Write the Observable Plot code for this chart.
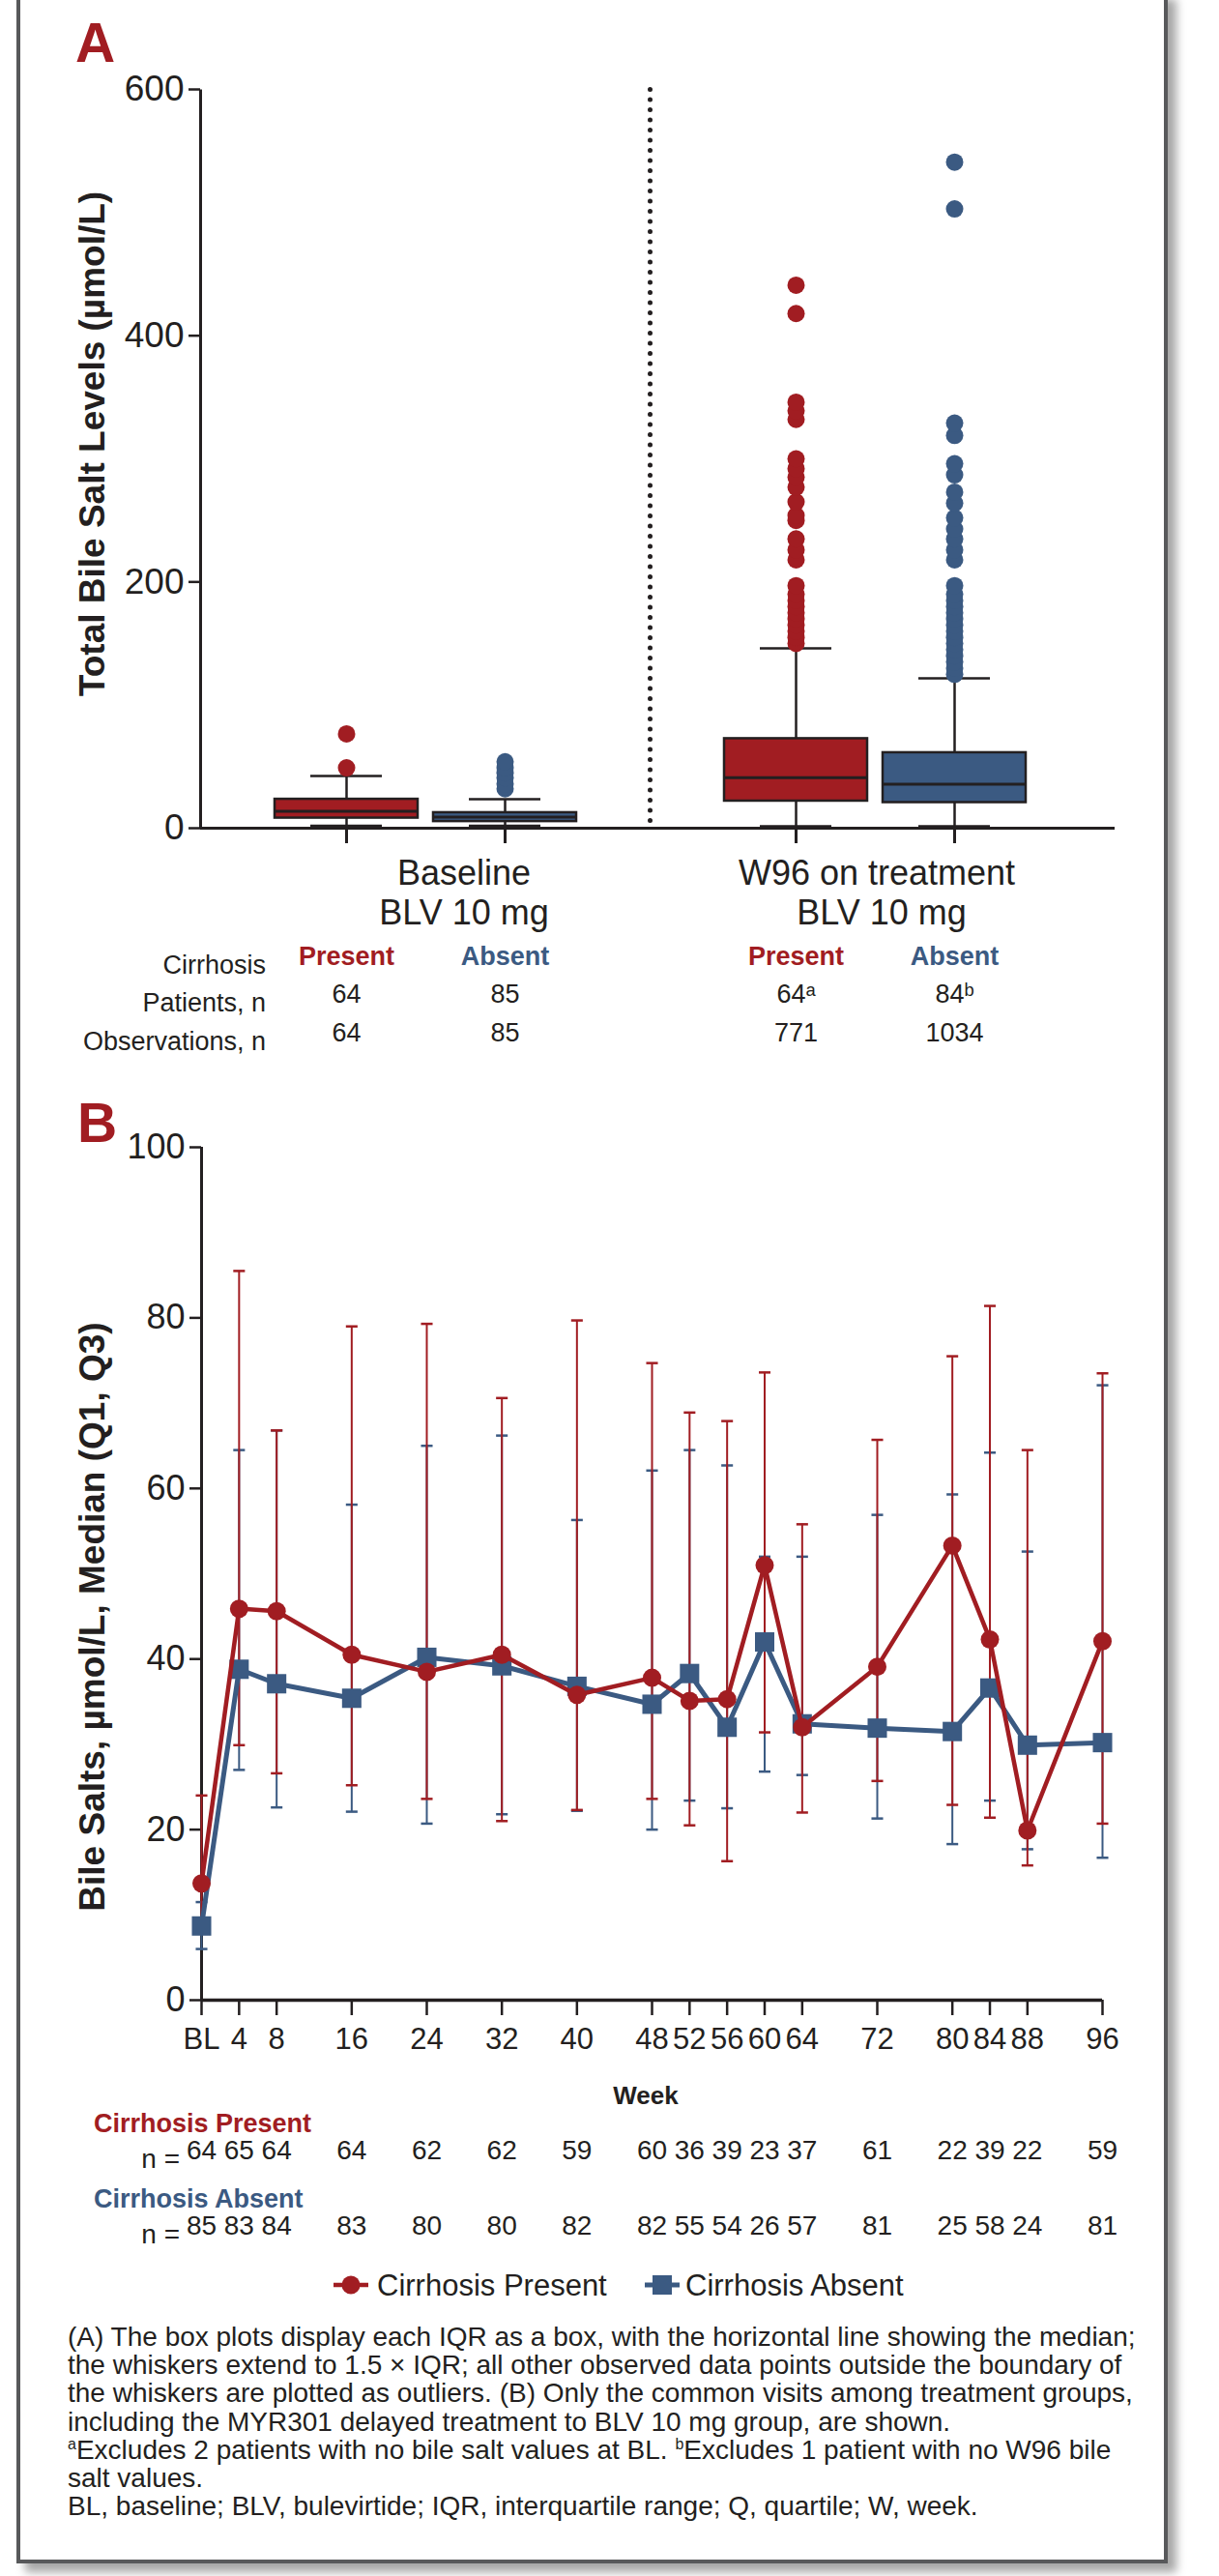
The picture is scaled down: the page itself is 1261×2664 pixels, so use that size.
<!DOCTYPE html>
<html>
<head>
<meta charset="utf-8">
<script src="https://cdn.jsdelivr.net/npm/d3@7"></script>
<script src="https://cdn.jsdelivr.net/npm/@observablehq/plot@0.6"></script>
<style>
  body { margin: 0; background: #fff; }
  #page { position: relative; width: 1261px; height: 2664px; overflow: hidden; background: #fff;
          font-family: "Liberation Sans", Arial, Helvetica, sans-serif; }
  #border { position: absolute; left: 17px; top: -10px; width: 1183px; height: 2657px;
            border: 4px solid #58595b; border-top: none; box-shadow: 9px 9px 9px rgba(0,0,0,0.35); background: #fff; }
  .layer { position: absolute; left: 0; }
</style>
</head>
<body>
<div id="page"><div id="border"></div></div>
<script>
// ---------- colours / fonts ----------
const red = "#a11d22";
const blue = "#3b5a82";
const ink = "#231f20";
const font = '"Liberation Sans", Arial, Helvetica, sans-serif';

// ---------- Panel A data ----------
const timepoints = ["Baseline", "W96"];
const cirrhosis = ["Present", "Absent"];
const boxTime   = ["Baseline", "Baseline", "W96", "W96"];
const boxCirr   = ["Present", "Absent", "Present", "Absent"];
const boxLow    = [2.0, 2.0, 1.5, 1.5];
const boxQ1     = [8.2, 5.4, 22.0, 20.8];
const boxMedian = [13.7, 9.0, 41.0, 35.7];
const boxQ3     = [23.5, 12.6, 72.7, 61.3];
const boxHigh   = [42.4, 23.5, 146.0, 121.8];
const outBaselinePresent = [49, 76.6];
const outBaselineAbsent  = [32, 36, 41, 45, 49, 54];
const outW96Present = [150, 155, 160, 165, 170, 175, 180, 185, 190, 197, 218, 226, 235, 250, 254, 265, 277, 285, 292, 300, 332, 339, 346, 418, 441];
const outW96Absent  = [125, 130, 135, 140, 145, 150, 155, 160, 165, 170, 175, 180, 185, 190, 197, 218, 226, 235, 243, 252, 264, 273, 287, 296, 319, 329, 503, 541];
const patientsN     = ["64", "85", "64ᵃ", "84ᵇ"];
const observationsN = ["64", "85", "771", "1034"];
const yTicksA = [0, 200, 400, 600];

// ---------- Panel B data ----------
const weeks      = [0, 4, 8, 16, 24, 32, 40, 48, 52, 56, 60, 64, 72, 80, 84, 88, 96];
const presMedian = [13.7, 45.9, 45.6, 40.5, 38.5, 40.5, 35.8, 37.8, 35.1, 35.3, 51.0, 32.0, 39.1, 53.3, 42.3, 19.9, 42.1];
const presQ1     = [8.5, 29.9, 26.6, 25.2, 23.6, 21.0, 22.3, 23.6, 20.5, 16.3, 31.4, 22.0, 25.7, 22.9, 21.4, 15.8, 20.7];
const presQ3     = [24.0, 85.5, 66.8, 79.0, 79.3, 70.6, 79.7, 74.7, 68.9, 67.9, 73.6, 55.8, 65.7, 75.5, 81.4, 64.5, 73.5];
const absMedian  = [8.7, 38.8, 37.1, 35.4, 40.2, 39.2, 36.8, 34.7, 38.3, 32.0, 42.0, 32.4, 31.9, 31.5, 36.6, 29.9, 30.2];
const absQ1      = [6.0, 27.0, 22.6, 22.1, 20.7, 21.8, 22.2, 20.0, 23.4, 22.5, 26.8, 26.4, 21.3, 18.3, 23.4, 17.7, 16.7];
const absQ3      = [11.5, 64.5, 66.8, 58.1, 65.0, 66.2, 56.3, 62.1, 64.5, 62.7, 52.0, 52.0, 56.9, 59.3, 64.2, 52.6, 72.1];
const nPresent   = [64, 65, 64, 64, 62, 62, 59, 60, 36, 39, 23, 37, 61, 22, 39, 22, 59];
const nAbsent    = [85, 83, 84, 83, 80, 80, 82, 82, 55, 54, 26, 57, 81, 25, 58, 24, 81];
const yTicksB = [0, 20, 40, 60, 80, 100];

// ---------- build tables ----------
const boxes = boxTime.map((t, i) => ({
  time: t, cirr: boxCirr[i], lo: boxLow[i], q1: boxQ1[i], med: boxMedian[i], q3: boxQ3[i], hi: boxHigh[i],
  patients: patientsN[i], obs: observationsN[i]
}));
const outliers = [
  ...outBaselinePresent.map(v => ({time: "Baseline", cirr: "Present", v})),
  ...outBaselineAbsent.map(v => ({time: "Baseline", cirr: "Absent", v})),
  ...outW96Present.map(v => ({time: "W96", cirr: "Present", v})),
  ...outW96Absent.map(v => ({time: "W96", cirr: "Absent", v}))
];
const visits = weeks.map((w, i) => ({
  week: w, pMed: presMedian[i], pQ1: presQ1[i], pQ3: presQ3[i],
  aMed: absMedian[i], aQ1: absQ1[i], aQ3: absQ3[i], nP: nPresent[i], nA: nAbsent[i]
}));

const page = document.getElementById("page");
function place(el, top) {
  const d = document.createElement("div");
  d.className = "layer";
  d.style.top = top + "px";
  d.appendChild(el);
  page.appendChild(d);
}

// ---------- Panel A ----------
const chartA = Plot.plot({
  width: 1261, height: 1110,
  marginTop: 92, marginBottom: 254, marginLeft: 207, marginRight: 124,
  style: {background: "transparent", fontFamily: font, color: ink, overflow: "visible"},
  fx: {domain: timepoints, padding: 0, axis: null},
  x: {domain: cirrhosis, paddingInner: 0.1, paddingOuter: 0.46, axis: null},
  y: {domain: [0, 600], axis: null},
  color: {domain: cirrhosis, range: [red, blue]},
  marks: [
    Plot.frame({anchor: "left", stroke: ink, strokeWidth: 5, strokeDasharray: "0 10.5", strokeLinecap: "round"}),
    Plot.ruleY([0], {stroke: ink, strokeWidth: 3, insetRight: -16}),
    Plot.axisY(yTicksA, {tickSize: 12, tickPadding: 5, fontSize: 37, strokeWidth: 2.5, label: null}),
    Plot.axisX({tickSize: 16, tickFormat: () => "", strokeWidth: 3, label: null}),
    Plot.ruleX(boxes, {fx: "time", x: "cirr", y1: "q3", y2: "hi", stroke: ink, strokeWidth: 2.5}),
    Plot.ruleX(boxes, {fx: "time", x: "cirr", y1: "lo", y2: "q1", stroke: ink, strokeWidth: 2.5}),
    Plot.tickY(boxes, {fx: "time", x: "cirr", y: "hi", insetLeft: 37, insetRight: 37, stroke: ink, strokeWidth: 2.5}),
    Plot.tickY(boxes, {fx: "time", x: "cirr", y: "lo", insetLeft: 37, insetRight: 37, stroke: ink, strokeWidth: 2.5}),
    Plot.barY(boxes, {fx: "time", x: "cirr", y1: "q1", y2: "q3", fill: "cirr", stroke: ink, strokeWidth: 2.5}),
    Plot.tickY(boxes, {fx: "time", x: "cirr", y: "med", stroke: ink, strokeWidth: 3}),
    Plot.dot(outliers, {fx: "time", x: "cirr", y: "v", r: 9, fill: "cirr"}),
    Plot.text(boxes, {fx: "time", x: "cirr", text: "cirr", fill: "cirr", fontWeight: "bold", fontSize: 27,
                      frameAnchor: "bottom", dy: 141.5}),
    Plot.text(boxes, {fx: "time", x: "cirr", text: "patients", fill: ink, fontSize: 27, frameAnchor: "bottom", dy: 180.5}),
    Plot.text(boxes, {fx: "time", x: "cirr", text: "obs", fill: ink, fontSize: 27, frameAnchor: "bottom", dy: 220.5})
  ]
});
place(chartA, 0);
// the left frame edge of the first facet is the solid y axis; the other one is the dotted separator
chartA.querySelectorAll("line, path, rect").forEach(e => {
  const cs = getComputedStyle(e);
  if (cs.strokeDasharray && cs.strokeDasharray !== "none" && e.getBoundingClientRect().left < 300) {
    e.style.strokeDasharray = "none";
    e.style.strokeLinecap = "butt";
    e.style.strokeWidth = "3";
  }
});

// ---------- Panel B ----------
const capSymbol = {
  draw(context, size) {
    const w = Math.sqrt(size);
    context.moveTo(-w / 2, 0);
    context.lineTo(w / 2, 0);
  }
};
const chartB = Plot.plot({
  width: 1261, height: 1200,
  marginTop: 56, marginBottom: 262, marginLeft: 208, marginRight: 121,
  style: {background: "transparent", fontFamily: font, color: ink, overflow: "visible"},
  x: {domain: [0, 96], axis: null},
  y: {domain: [0, 100], axis: null},
  marks: [
    Plot.ruleX([0], {stroke: ink, strokeWidth: 3}),
    Plot.ruleY([0], {stroke: ink, strokeWidth: 3.5}),
    Plot.axisY(yTicksB, {tickSize: 12, tickPadding: 5, fontSize: 36, strokeWidth: 2.5, label: null}),
    Plot.axisX(weeks, {tickSize: 16, tickPadding: 12, fontSize: 31, strokeWidth: 2.5, label: null,
                       tickFormat: d => d === 0 ? "BL" : String(d)}),
    // error bars (Q1–Q3)
    Plot.ruleX(visits, {x: "week", y1: "aQ1", y2: "aQ3", stroke: blue, strokeWidth: 2}),
    Plot.dot(visits, {x: "week", y: "aQ1", symbol: capSymbol, r: 6.8, fill: "none", stroke: blue, strokeWidth: 2.5}),
    Plot.dot(visits, {x: "week", y: "aQ3", symbol: capSymbol, r: 6.8, fill: "none", stroke: blue, strokeWidth: 2.5}),
    Plot.ruleX(visits, {x: "week", y1: "pQ1", y2: "pQ3", stroke: red, strokeWidth: 2}),
    Plot.dot(visits, {x: "week", y: "pQ1", symbol: capSymbol, r: 6.8, fill: "none", stroke: red, strokeWidth: 2.5}),
    Plot.dot(visits, {x: "week", y: "pQ3", symbol: capSymbol, r: 6.8, fill: "none", stroke: red, strokeWidth: 2.5}),
    // medians
    Plot.line(visits, {x: "week", y: "aMed", stroke: blue, strokeWidth: 5}),
    Plot.dot(visits, {x: "week", y: "aMed", symbol: "square", r: 11.3, fill: blue}),
    Plot.line(visits, {x: "week", y: "pMed", stroke: red, strokeWidth: 4.5}),
    Plot.dot(visits, {x: "week", y: "pMed", symbol: "circle", r: 9.5, fill: red}),
    // n rows
    Plot.text(visits, {x: "week", text: "nP", fill: ink, fontSize: 28, frameAnchor: "bottom", dy: 164}),
    Plot.text(visits, {x: "week", text: "nA", fill: ink, fontSize: 28, frameAnchor: "bottom", dy: 242})
  ]
});
place(chartB, 1130);

// ---------- annotations (labels, legend, footnote) ----------
const ann = d3.select(page).append("svg")
  .attr("width", 1261).attr("height", 2664)
  .style("position", "absolute").style("left", "0px").style("top", "0px")
  .style("font-family", font);

function txt(x, y, s, {size = 27, weight = "normal", fill = ink, anchor = "start", rotate = 0} = {}) {
  const t = ann.append("text")
    .attr("x", x).attr("y", y)
    .attr("font-size", size).attr("font-weight", weight)
    .attr("fill", fill).attr("text-anchor", anchor)
    .text(s);
  if (rotate) t.attr("transform", `rotate(${rotate},${x},${y})`);
  return t;
}

// panel letters
txt(78, 64, "A", {size: 57, weight: "bold", fill: red});
txt(80, 1181, "B", {size: 57, weight: "bold", fill: red});

// y-axis titles
txt(108, 459, "Total Bile Salt Levels (µmol/L)", {size: 37, weight: "bold", anchor: "middle", rotate: -90});
txt(108, 1672, "Bile Salts, µmol/L, Median (Q1, Q3)", {size: 37, weight: "bold", anchor: "middle", rotate: -90});

// panel A group labels
txt(480, 915, "Baseline", {size: 36, anchor: "middle"});
txt(480, 956, "BLV 10 mg", {size: 36, anchor: "middle"});
txt(907, 915, "W96 on treatment", {size: 36, anchor: "middle"});
txt(912, 956, "BLV 10 mg", {size: 36, anchor: "middle"});

// panel A table row labels
txt(275, 1007, "Cirrhosis", {anchor: "end"});
txt(275, 1046, "Patients, n", {anchor: "end"});
txt(275, 1086, "Observations, n", {anchor: "end"});

// panel B axis title and n rows labels
txt(668, 2176, "Week", {size: 26, weight: "bold", anchor: "middle"});
txt(97, 2205, "Cirrhosis Present", {size: 27, weight: "bold", fill: red});
txt(186, 2242, "n =", {size: 28, anchor: "end"});
txt(97, 2283, "Cirrhosis Absent", {size: 27, weight: "bold", fill: blue});
txt(186, 2320, "n =", {size: 28, anchor: "end"});

// legend
const ly = 2363;
ann.append("line").attr("x1", 345).attr("x2", 381).attr("y1", ly).attr("y2", ly).attr("stroke", red).attr("stroke-width", 4.5);
ann.append("circle").attr("cx", 363).attr("cy", ly).attr("r", 9.5).attr("fill", red);
txt(390, ly + 11, "Cirrhosis Present", {size: 31});
ann.append("line").attr("x1", 667).attr("x2", 703).attr("y1", ly).attr("y2", ly).attr("stroke", blue).attr("stroke-width", 5);
ann.append("rect").attr("x", 675).attr("y", ly - 10).attr("width", 20).attr("height", 20).attr("fill", blue);
txt(709, ly + 11, "Cirrhosis Absent", {size: 31});

// footnote
const footLines = [
  ["(A) The box plots display each IQR as a box, with the horizontal line showing the median;"],
  ["the whiskers extend to 1.5 × IQR; all other observed data points outside the boundary of"],
  ["the whiskers are plotted as outliers. (B) Only the common visits among treatment groups,"],
  ["including the MYR301 delayed treatment to BLV 10 mg group, are shown."],
  [{sup: "a"}, "Excludes 2 patients with no bile salt values at BL. ", {sup: "b"}, "Excludes 1 patient with no W96 bile"],
  ["salt values."],
  ["BL, baseline; BLV, bulevirtide; IQR, interquartile range; Q, quartile; W, week."]
];
footLines.forEach((parts, i) => {
  const t = ann.append("text").attr("x", 70).attr("y", 2426 + i * 29.2)
    .attr("font-size", 28).attr("fill", ink);
  let shift = 0;
  parts.forEach(p => {
    if (typeof p === "string") {
      t.append("tspan").attr("dy", -shift).text(p);
      shift = 0;
    } else {
      t.append("tspan").attr("font-size", 16).attr("dy", -10 - shift).text(p.sup);
      shift = -10;
    }
  });
});
</script>
</body>
</html>
